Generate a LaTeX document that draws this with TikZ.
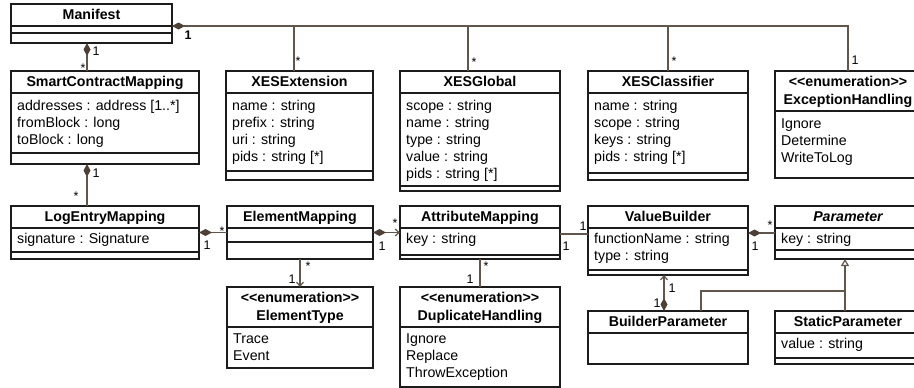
\documentclass[tikz,border=0pt]{standalone}
\usepackage{fontspec}
\setmainfont{Liberation Sans}
\usetikzlibrary{arrows.meta}

\definecolor{connclr}{RGB}{96,86,76}
\definecolor{diamclr}{RGB}{78,64,52}
\definecolor{boxclr}{RGB}{28,28,28}

\tikzset{
  classbox/.style={draw=boxclr, line width=1.3pt, inner sep=0pt, outer sep=0pt, fill=white},
  boxline/.style={draw=boxclr, line width=1.3pt},
  titletext/.style={inner sep=0pt, font=\fontsize{14.2}{17}\selectfont\bfseries},
  rowtext/.style={inner sep=0pt, font=\fontsize{14.2}{17}\selectfont},
  conn/.style={draw=connclr, line width=1.2pt},
  mult/.style={inner sep=0pt, anchor=base, font=\fontsize{12.5}{14}\selectfont},
  comp/.style={arrows={Diamond[length=13pt,width=7pt,fill=diamclr,color=diamclr]-}},
  compnav/.style={arrows={Diamond[length=13pt,width=7pt,fill=diamclr,color=diamclr]-Straight Barb[length=4pt,width=7pt]}},
  nav/.style={arrows={-Straight Barb[length=4pt,width=7pt]}},
  gen/.style={arrows={-Triangle[open,length=7pt,width=8pt,fill=white]}},
}

% class box: name, left, top, width, height
\newcommand\umlbox[5]{\node[classbox, minimum width=#4pt, minimum height=#5pt, anchor=north west] (#1) at (#2,#3) {};}
% compartment line: name, offset from top
\newcommand\umlsep[2]{\draw[boxline] ([yshift=-#2pt]#1.north west) -- ([yshift=-#2pt]#1.north east);}
% centred title line: name, baseline offset, text
\newcommand\umltitle[3]{\node[titletext, anchor=base] at ([yshift=-#2pt]#1.north) {#3};}
% left-aligned rows: name, first baseline offset, list of rows
\newcommand\umlrows[3]{\foreach \rowtext [count=\k] in {#3} {\node[rowtext, anchor=base west] at ([xshift=6pt, yshift={-(#2+17*(\k-1))}]#1.north west) {\rowtext};}}
\newcommand\enumstereo{<{}<enumeration>{}>}

\begin{document}
\begin{tikzpicture}[x=1pt, y=-1pt]
\useasboundingbox (0,0) rectangle (914,388);
\clip (0,0) rectangle (914,388);

% ---- top row ----
\umlbox{manifest}{11}{4}{161}{39}
\umlsep{manifest}{22}\umlsep{manifest}{29}
\umltitle{manifest}{15.5}{Manifest}

\umlbox{scm}{11}{71}{188}{93}
\umlsep{scm}{22}\umlsep{scm}{82}
\umltitle{scm}{15.5}{SmartContractMapping}
\umlrows{scm}{39}{{addresses : address [1..*]},{fromBlock : long},{toBlock : long}}

\umlbox{xesext}{226}{71}{147}{109}
\umlsep{xesext}{22}\umlsep{xesext}{100}
\umltitle{xesext}{15.5}{XESExtension}
\umlrows{xesext}{39}{{name : string},{prefix : string},{uri : string},{pids : string [*]}}

\umlbox{xesglob}{400}{71}{160}{120}
\umlsep{xesglob}{22}\umlsep{xesglob}{115}
\umltitle{xesglob}{15.5}{XESGlobal}
\umlrows{xesglob}{39}{{scope : string},{name : string},{type : string},{value : string},{pids : string [*]}}

\umlbox{xescl}{588}{71}{160}{109}
\umlsep{xescl}{22}\umlsep{xescl}{102}
\umltitle{xescl}{15.5}{XESClassifier}
\umlrows{xescl}{39}{{name : string},{scope : string},{keys : string},{pids : string [*]}}

\umlbox{exch}{775}{71}{146}{107}
\umlsep{exch}{40}
\umltitle{exch}{15.5}{\enumstereo}
\umltitle{exch}{33}{ExceptionHandling}
\umlrows{exch}{57}{Ignore,Determine,WriteToLog}

% ---- middle row ----
\umlbox{logentry}{11}{206}{188}{53}
\umlsep{logentry}{22}\umlsep{logentry}{46}
\umltitle{logentry}{15.5}{LogEntryMapping}
\umlrows{logentry}{37}{{signature : Signature}}

\umlbox{elem}{227}{206}{146}{53}
\umlsep{elem}{22}\umlsep{elem}{36}
\umltitle{elem}{15.5}{ElementMapping}

\umlbox{attr}{400}{206}{160}{53}
\umlsep{attr}{22}\umlsep{attr}{49}
\umltitle{attr}{15.5}{AttributeMapping}
\umlrows{attr}{37}{{key : string}}

\umlbox{vb}{588}{206}{160}{69}
\umlsep{vb}{22}\umlsep{vb}{64}
\umltitle{vb}{15.5}{ValueBuilder}
\umlrows{vb}{37}{{functionName : string},{type : string}}

\umlbox{param}{775}{206}{146}{53}
\umlsep{param}{22}\umlsep{param}{44}
\umltitle{param}{15.5}{\itshape Parameter}
\umlrows{param}{37}{{key : string}}

% ---- bottom row ----
\umlbox{etype}{227}{287}{146}{81}
\umlsep{etype}{40}
\umltitle{etype}{15.5}{\enumstereo}
\umltitle{etype}{33}{ElementType}
\umlrows{etype}{56}{Trace,Event}

\umlbox{dup}{400}{287}{160}{100}
\umlsep{dup}{40}
\umltitle{dup}{15.5}{\enumstereo}
\umltitle{dup}{33}{DuplicateHandling}
\umlrows{dup}{56}{Ignore,Replace,ThrowException}

\umlbox{bp}{588}{311}{160}{53}
\umlsep{bp}{22}
\umltitle{bp}{15.5}{BuilderParameter}

\umlbox{static}{775}{311}{146}{53}
\umlsep{static}{22}\umlsep{static}{47}
\umltitle{static}{15.5}{StaticParameter}
\umlrows{static}{37}{{value : string}}

% ---- associations of Manifest ----
\coordinate (bus) at ([yshift=-22pt]manifest.north east);
\draw[conn, comp] (bus) -| (exch.north);
\draw[conn] ([xshift=68pt]xesext.north west) -- ([xshift=68pt]xesext.north west |- bus);
\draw[conn] ([xshift=68pt]xesglob.north west) -- ([xshift=68pt]xesglob.north west |- bus);
\draw[conn] (xescl.north) -- (xescl.north |- bus);
\node[mult, font=\fontsize{12.5}{14}\selectfont\bfseries] at (188,39) {1};
\node[mult] at (298,65) {*};
\node[mult] at (474,66.5) {*};
\node[mult] at (674,65.5) {*};
\node[mult] at (855,64) {1};

\draw[conn, comp] ([xshift=76pt]manifest.south west) -- ([xshift=76pt]scm.north west);
\node[mult] at (96,56) {1};
\node[mult] at (83,72) {*};

\draw[conn, comp] ([xshift=76pt]scm.south west) -- ([xshift=76pt]logentry.north west);
\node[mult] at (96,177) {1};
\node[mult] at (76,200) {*};

% ---- middle row connectors ----
\draw[conn, comp] (logentry.east) -- (elem.west);
\node[mult] at (222,235) {*};
\node[mult] at (207,249) {1};

\draw[conn, compnav] (elem.east) -- (attr.west);
\node[mult] at (395,227) {*};
\node[mult] at (382,250) {1};

\draw[conn, nav] (elem.south) -- (etype.north);
\node[mult] at (308,270) {*};
\node[mult] at (292,283) {1};

\draw[conn] (attr.south) -- (dup.north);
\node[mult] at (486,270) {*};
\node[mult] at (470,283) {1};

\draw[conn] ([yshift=-28pt]attr.north east) -- ([yshift=-28pt]vb.north west);
\node[mult] at (583,230) {1};
\node[mult] at (566,250) {1};

\draw[conn, comp] ([yshift=-27pt]vb.north east) -- ([yshift=-27pt]param.north west);
\node[mult] at (770,229) {*};
\node[mult] at (755,250) {1};

\draw[conn, compnav] ([xshift=76pt]bp.north west) -- ([xshift=76pt]vb.south west);
\node[mult] at (672,292) {1};
\node[mult] at (657,307) {1};

% ---- generalisation to Parameter ----
\coordinate (genjoin) at ([xshift=70pt, yshift=20pt]static.north west);
\draw[conn, gen] ([xshift=70pt]static.north west) -- ([xshift=70pt]param.south west);
\draw[conn] ([xshift=113pt]bp.north west) |- (genjoin);
\end{tikzpicture}
\end{document}
